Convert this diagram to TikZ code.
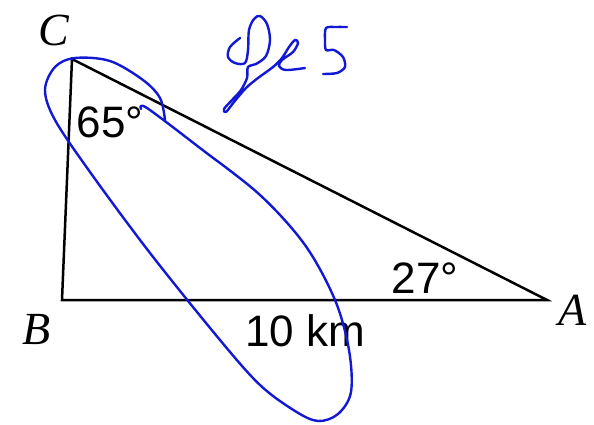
\documentclass[tikz,border=0pt]{standalone}
\usepackage{fontspec}
\setmainfont{Liberation Serif}
\newfontfamily\numfont{Liberation Sans}
\definecolor{pen}{RGB}{18,24,212}
\tikzset{
  edge/.style={line width=2.5pt, line join=miter, black},
  vlabel/.style={font=\fontsize{46}{52}\selectfont\itshape, inner sep=0pt},
  mlabel/.style={font=\numfont\fontsize{44}{50}\selectfont, inner sep=0pt},
  ink/.style={pen, line width=2.4pt, line cap=round, line join=round},
}
\begin{document}
\begin{tikzpicture}[x=1pt, y=-1pt]
\useasboundingbox (0,0) rectangle (594,424);
\coordinate (C) at (72,59);
\coordinate (B) at (62,300);
\coordinate (A) at (547,300);
\draw[edge] (C) -- (A) -- (B) -- cycle;
\node[vlabel] (lC) at (54,30) {C};
\node[vlabel] (lB) at (37,329) {B};
\node[vlabel] (lA) at (573,310) {A};
\node[mlabel] (a65) at (110,122) {65°};
\node[mlabel] (a27) at (425,278) {27°};
\node[mlabel] (d10) at (305,331) {10 km};
% handwritten loop
\draw[ink] plot[smooth, tension=0.55] coordinates {
 (141,109) (147,108) (200,148) (260,195) (305,245) (335,300) (349,350)
 (351,392) (338,414) (318,421) (295,411) (260,385) (220,340) (150,253)
 (90,172) (55,120) (45,90) (55,67) (75,58) (110,61) (143,80) (160,98)
 (165,120)};
% handwritten "Ses"
\draw[ink] plot[smooth, tension=0.55] coordinates {
 (240,38) (230,47) (228,57) (235,63) (245,63) (248,50) (249,30) (254,19)
 (260,16) (267,24) (270,40) (266,56) (256,64) (248,67) (247,78) (241,90)
 (232,100) (224,109) (226,112) (234,102) (246,88) (258,78) (273,67)
 (282,58) (289,47) (295,40) (298,43) (293,52) (282,60) (279,66) (286,70)
 (305,68)};
\draw[ink] plot[smooth, tension=0.5] coordinates {
 (347,27) (336,27) (326,28) (325,40) (326,50) (334,50) (343,57) (345,67)
 (337,73) (323,74)};
\end{tikzpicture}
\end{document}
